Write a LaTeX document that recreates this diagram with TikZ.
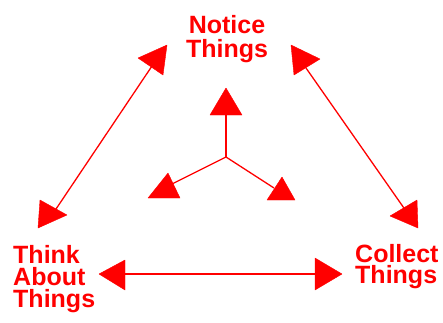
\documentclass[tikz,border=0pt]{standalone}
\usepackage{fontspec}
\setmainfont{Liberation Sans}
\begin{document}
\begin{tikzpicture}[x=1pt,y=-1pt,
  lbl/.style={text=red,font=\bfseries\fontsize{25}{22}\selectfont,inner sep=0pt},
  conn/.style={draw=red,line width=1.3pt},
  head/.style={fill=red,draw=red,line width=0.4pt,line join=round}]
\useasboundingbox (0,0) rectangle (443,322);
% labels (anchor base = baseline of last line)
\node[lbl,align=center,anchor=base,font=\bfseries\fontsize{25}{24}\selectfont] (notice) at (227,57) {Notice\\Things};
\node[lbl,align=left,anchor=base west] (think) at (13,307) {Think\\About\\Things};
\node[lbl,align=left,anchor=base west,font=\bfseries\fontsize{25}{21}\selectfont] (collect) at (355,283) {Collect\\Things};
% connector end points
\coordinate (tl) at (152,66);
\coordinate (bl) at (54,212);
\coordinate (tr) at (306,68);
\coordinate (br) at (406,211);
\coordinate (hl) at (122,274);
\coordinate (hr) at (318,274);
\coordinate (c) at (226,157);
\coordinate (cu) at (226,113);
\coordinate (cl) at (172,184);
\coordinate (cr) at (274,188);
% connectors
\draw[conn] (tl) -- (bl);
\draw[conn] (tr) -- (br);
\draw[conn] (hl) -- (hr);
\draw[conn] (c) -- (cu);
\draw[conn] (c) -- (cl);
\draw[conn] (c) -- (cr);
% arrow heads
\path[head] (138,58) -- (167,45) -- (163,75) -- cycle;
\path[head] (291,45) -- (320,59) -- (294,75) -- cycle;
\path[head] (40,200) -- (67,215) -- (38,228) -- cycle;
\path[head] (417,200) -- (418,228) -- (390,216) -- cycle;
\path[head] (125,260) -- (99,274) -- (125,290) -- cycle;
\path[head] (315,258) -- (342,274) -- (315,290) -- cycle;
\path[head] (210,115) -- (226,88) -- (242,115) -- cycle;
\path[head] (148,198) -- (168,173) -- (180,198) -- cycle;
\path[head] (267,200) -- (282,177) -- (295,200) -- cycle;
\end{tikzpicture}
\end{document}
